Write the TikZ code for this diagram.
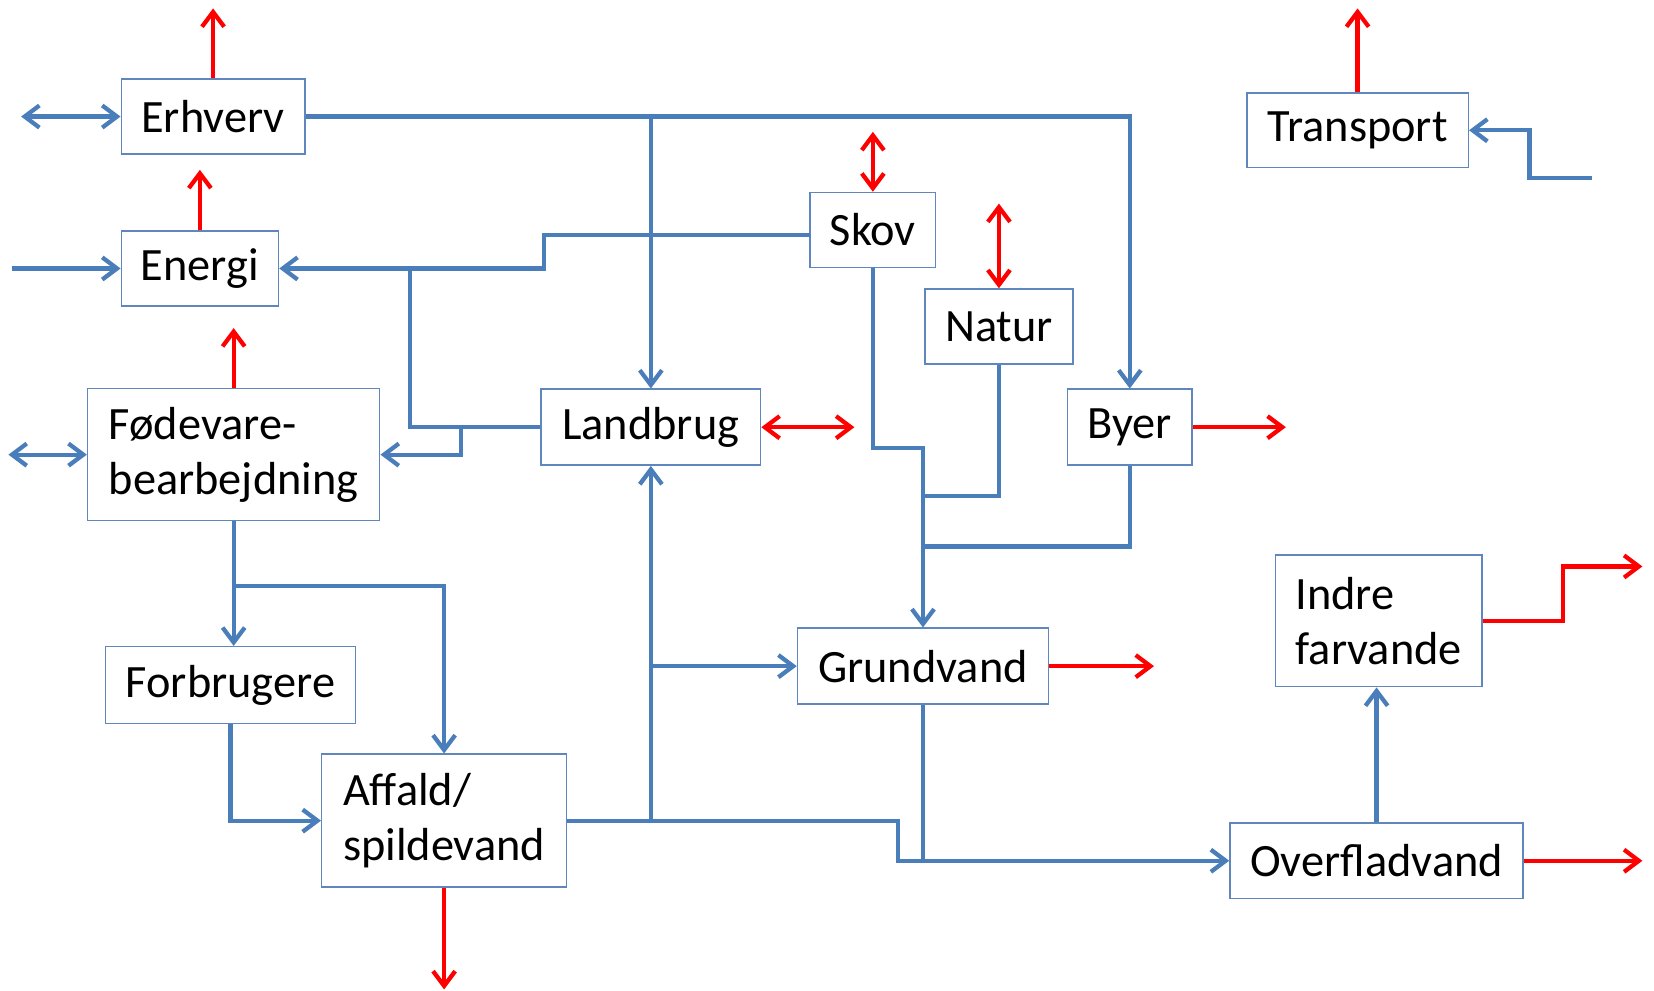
\documentclass[tikz,border=0pt]{standalone}
\usepackage{fontspec}
\setmainfont{Carlito}
\usetikzlibrary{arrows.meta}
\definecolor{bluec}{RGB}{74,126,187}
\definecolor{redc}{RGB}{255,0,0}
\definecolor{boxc}{RGB}{95,135,190}
\begin{document}
\begin{tikzpicture}[x=0.02cm,y=-0.02cm,
  box/.style={draw=boxc, line width=0.8pt, inner sep=0pt, fill=white,
    font=\fontsize{25}{29.5}\selectfont},
  sz/.style 2 args={minimum width=#1*0.02cm, minimum height=#2*0.02cm},
  bl/.style={draw=bluec, line width=2.3pt, line join=miter},
  rd/.style={draw=redc, line width=2.3pt, line join=miter},
  >={Straight Barb[length=2.8mm,width=4.2mm]}]
\useasboundingbox[fill=white] (0,0) rectangle (1568,939);

% boxes
\node[box,sz={174}{71}] (erh) at (202,110.5) {Erhverv};
\node[box,sz={149}{71}] (ene) at (189.5,254.5) {Energi};
\node[box,sz={277}{125},align=left] (fod) at (221.5,431) {Fødevare-\\bearbejdning};
\node[box,sz={237}{73}] (forb) at (218.5,649.5) {Forbrugere};
\node[box,sz={232}{126},align=left] (aff) at (421,778) {Affald/\\spildevand};
\node[box,sz={208}{72}] (land) at (617,405) {Landbrug};
\node[box,sz={119}{71}] (skov) at (827.5,218) {Skov};
\node[box,sz={140}{71}] (natur) at (947,309.5) {Natur};
\node[box,sz={118}{72}] (byer) at (1071,405) {Byer};
\node[box,sz={238}{72}] (grund) at (875,631.5) {Grundvand};
\node[box,sz={210}{71}] (trans) at (1287,123.5) {Transport};
\node[box,sz={196}{125},align=left] (indre) at (1307,588.5) {Indre\\farvande};
\node[box,sz={278}{72}] (over) at (1305,816) {Overfladvand};

% free ends and junctions
\coordinate (erhL) at (20,110.5);
\coordinate (jE) at (617,110.5);
\coordinate (eneIn) at (11,254.5);
\coordinate (eneUp) at (189.5,161);
\coordinate (erhUp) at (202,8);
\coordinate (sk0) at (768,222.5);
\coordinate (sk1) at (516,222.5);
\coordinate (sk2) at (516,254.5);
\coordinate (jL) at (389,254.5);
\coordinate (jL2) at (389,405);
\coordinate (jF) at (437,405);
\coordinate (jF2) at (437,431);
\coordinate (fodL) at (8,431);
\coordinate (fodUp) at (221.5,311);
\coordinate (jA) at (221.5,555.6);
\coordinate (jA2) at (421,555.6);
\coordinate (affD) at (421,938);
\coordinate (a1) at (851,778);
\coordinate (a2) at (851,816);
\coordinate (jLa) at (617,778);
\coordinate (jG) at (617,631.5);
\coordinate (landR) at (810,405);
\coordinate (skovUp) at (827.5,125);
\coordinate (natUp) at (947,193);
\coordinate (s1) at (827.5,425);
\coordinate (s2) at (875,425);
\coordinate (n1) at (947,470);
\coordinate (n2) at (875,470);
\coordinate (b1) at (1071,518);
\coordinate (b2) at (875,518);
\coordinate (byerR) at (1219,405);
\coordinate (grundR) at (1094,631.5);
\coordinate (g1) at (875,816);
\coordinate (overR) at (1557,816);
\coordinate (i1) at (1481.6,588.5);
\coordinate (i2) at (1481.6,537);
\coordinate (i3) at (1557,537);
\coordinate (transUp) at (1287,8);
\coordinate (t0) at (1509,169);
\coordinate (t1) at (1450,169);
\coordinate (t2) at (1450,123.5);

% blue connectors
\draw[bl,<->] (erhL) -- (erh.west);
\draw[bl,->] (erh.east) -| (byer.north);
\draw[bl,->] (jE) -- (land.north);
\draw[bl,->] (eneIn) -- (ene.west);
\draw[bl,->] (sk0) -- (sk1) -- (sk2) -- (ene.east);
\draw[bl] (jL) -- (jL2) -- (land.west);
\draw[bl,->] (jF) -- (jF2) -- (fod.east);
\draw[bl,<->] (fodL) -- (fod.west);
\draw[bl,->] (fod.south) -- (fod.south |- forb.north);
\draw[bl,->] (jA) -- (jA2) -- (aff.north);
\draw[bl,->] (forb.south) -- (forb.south |- aff.west) -- (aff.west);
\draw[bl,->] (aff.east) -- (a1) -- (a2) -- (over.west);
\draw[bl,->] (jLa) -- (land.south);
\draw[bl,->] (jG) -- (grund.west);
\draw[bl,->] (skov.south) -- (s1) -- (s2) -- (grund.north);
\draw[bl] (natur.south) -- (n1) -- (n2);
\draw[bl] (byer.south) -- (b1) -- (b2);
\draw[bl] (grund.south) -- (g1);
\draw[bl,->] (over.north) -- (over.north |- indre.south);
\draw[bl,->] (t0) -- (t1) -- (t2) -- (trans.east);

% red connectors
\draw[rd,->] (erh.north) -- (erhUp);
\draw[rd,->] (ene.north) -- (eneUp);
\draw[rd,->] (fod.north) -- (fodUp);
\draw[rd,->] (aff.south) -- (affD);
\draw[rd,<->] (land.east) -- (landR);
\draw[rd,<->] (skovUp) -- (skov.north);
\draw[rd,<->] (natUp) -- (natur.north);
\draw[rd,->] (byer.east) -- (byerR);
\draw[rd,->] (grund.east) -- (grundR);
\draw[rd,->] (over.east) -- (overR);
\draw[rd,->] (indre.east) -- (i1) -- (i2) -- (i3);
\draw[rd,->] (trans.north) -- (transUp);
\end{tikzpicture}
\end{document}
